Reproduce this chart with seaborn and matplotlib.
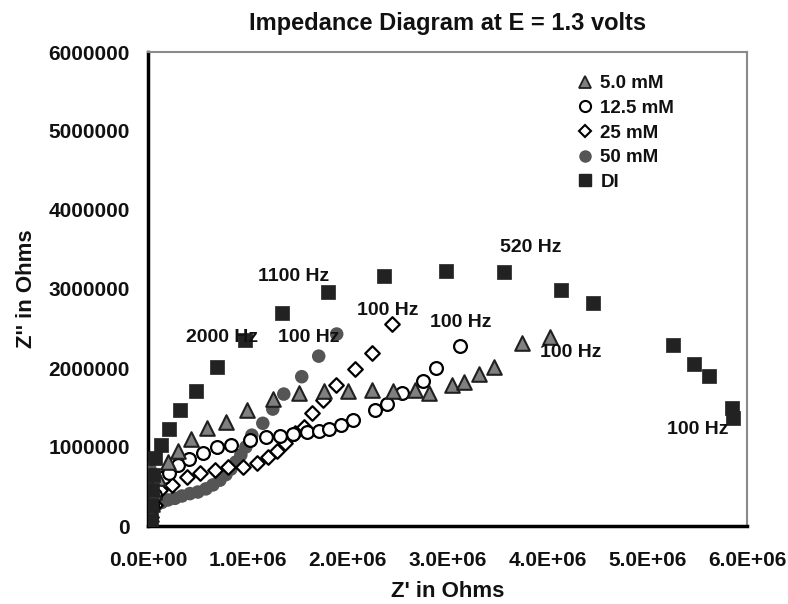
import matplotlib
matplotlib.use("Agg")
import matplotlib.pyplot as plt
import matplotlib.ticker as mticker
from matplotlib.lines import Line2D
import seaborn as sns
import numpy as np

# ---------------- data (Z' , Z'' in Ohms) ----------------
di_x = [0.03e6, 0.03e6, 0.04e6, 0.05e6, 0.07e6, 0.13e6, 0.21e6, 0.32e6, 0.48e6, 0.69e6,
        0.97e6, 1.34e6, 1.80e6, 2.36e6, 2.98e6, 3.57e6, 4.14e6, 4.46e6, 5.26e6, 5.47e6,
        5.62e6, 5.85e6, 5.86e6]
di_y = [0.076e6, 0.266e6, 0.456e6, 0.646e6, 0.861e6, 1.025e6, 1.228e6, 1.468e6, 1.709e6, 2.013e6,
        2.354e6, 2.696e6, 2.962e6, 3.165e6, 3.228e6, 3.215e6, 2.987e6, 2.823e6, 2.291e6, 2.051e6,
        1.899e6, 1.494e6, 1.367e6]

mm5_x = [0.03e6, 0.04e6, 0.06e6, 0.10e6, 0.20e6, 0.30e6, 0.43e6, 0.59e6, 0.78e6, 0.99e6,
         1.25e6, 1.51e6, 1.76e6, 2.00e6, 2.24e6, 2.45e6, 2.67e6, 2.81e6, 3.05e6, 3.17e6,
         3.32e6, 3.47e6, 3.75e6, 4.03e6]
mm5_y = [0.15e6, 0.28e6, 0.43e6, 0.61e6, 0.81e6, 0.95e6, 1.10e6, 1.24e6, 1.32e6, 1.47e6,
         1.61e6, 1.68e6, 1.71e6, 1.71e6, 1.72e6, 1.71e6, 1.72e6, 1.68e6, 1.78e6, 1.82e6,
         1.92e6, 2.01e6, 2.32e6, 2.39e6]

mm12_x = [0.02e6, 0.04e6, 0.07e6, 0.16e6, 0.21e6, 0.30e6, 0.41e6, 0.55e6, 0.69e6, 0.83e6,
          1.02e6, 1.18e6, 1.32e6, 1.45e6, 1.59e6, 1.71e6, 1.81e6, 1.93e6, 2.05e6, 2.27e6,
          2.39e6, 2.54e6, 2.75e6, 2.88e6, 3.13e6]
mm12_y = [0.14e6, 0.27e6, 0.39e6, 0.62e6, 0.67e6, 0.77e6, 0.85e6, 0.92e6, 1.00e6, 1.03e6,
          1.09e6, 1.13e6, 1.14e6, 1.16e6, 1.19e6, 1.20e6, 1.23e6, 1.28e6, 1.34e6, 1.47e6,
          1.54e6, 1.68e6, 1.84e6, 2.00e6, 2.28e6]

mm25_x = [0.03e6, 0.07e6, 0.12e6, 0.24e6, 0.39e6, 0.52e6, 0.67e6, 0.80e6, 0.95e6, 1.09e6,
          1.20e6, 1.29e6, 1.37e6, 1.47e6, 1.56e6, 1.64e6, 1.75e6, 1.88e6, 2.07e6, 2.24e6,
          2.44e6]
mm25_y = [0.12e6, 0.27e6, 0.46e6, 0.52e6, 0.62e6, 0.67e6, 0.71e6, 0.75e6, 0.75e6, 0.80e6,
          0.87e6, 0.95e6, 1.05e6, 1.18e6, 1.25e6, 1.43e6, 1.59e6, 1.78e6, 1.99e6, 2.19e6,
          2.56e6]

mm50_x = [0.00e6, 0.005e6, 0.01e6, 0.01e6, 0.015e6, 0.02e6, 0.02e6, 0.03e6, 0.05e6, 0.09e6,
          0.14e6, 0.20e6, 0.27e6, 0.34e6, 0.42e6, 0.50e6, 0.58e6, 0.65e6, 0.72e6, 0.78e6,
          0.83e6, 0.88e6, 0.93e6, 0.98e6, 1.04e6, 1.15e6, 1.25e6, 1.36e6, 1.54e6, 1.71e6,
          1.89e6]
mm50_y = [0.02e6, 0.10e6, 0.20e6, 0.32e6, 0.45e6, 0.58e6, 0.72e6, 0.16e6, 0.22e6, 0.27e6,
          0.30e6, 0.33e6, 0.35e6, 0.38e6, 0.41e6, 0.43e6, 0.47e6, 0.52e6, 0.58e6, 0.65e6,
          0.72e6, 0.81e6, 0.90e6, 1.00e6, 1.15e6, 1.30e6, 1.48e6, 1.67e6, 1.89e6, 2.15e6,
          2.43e6]

series_labels = ["5.0 mM", "12.5 mM", "25 mM", "50 mM", "DI"]

freq_labels = ["2000 Hz", "1100 Hz", "100 Hz", "100 Hz", "100 Hz", "520 Hz", "100 Hz", "100 Hz"]
freq_x = [0.74e6, 1.46e6, 1.61e6, 2.40e6, 3.13e6, 3.83e6, 4.23e6, 5.51e6]
freq_y = [2.38e6, 3.16e6, 2.38e6, 2.73e6, 2.57e6, 3.53e6, 2.20e6, 1.22e6]

x_ticks = [0, 1e6, 2e6, 3e6, 4e6, 5e6, 6e6]
y_ticks = [0, 1e6, 2e6, 3e6, 4e6, 5e6, 6e6]

# ---------------- style ----------------
sns.set_style("white")
plt.rcParams['font.family'] = ['Liberation Sans', 'DejaVu Sans']
plt.rcParams['font.weight'] = 'bold'
plt.rcParams['text.color'] = '#111111'
plt.rcParams['axes.labelcolor'] = '#111111'
plt.rcParams['xtick.color'] = '#111111'
plt.rcParams['ytick.color'] = '#111111'

fig = plt.figure(figsize=(7.88, 6.04), dpi=100)
ax = fig.add_axes([148/788, 1 - 526/604, (747-148)/788, (526-52)/604])

sns.scatterplot(x=mm50_x, y=mm50_y, ax=ax, marker='o', s=95, color='#555555',
                edgecolor='none', linewidth=0, zorder=3)
sns.scatterplot(x=mm25_x, y=mm25_y, ax=ax, marker='D', s=55, color='white',
                edgecolor='black', linewidth=1.6, zorder=4)
sns.scatterplot(x=mm12_x, y=mm12_y, ax=ax, marker='o', s=85, color='white',
                edgecolor='black', linewidth=1.6, zorder=4)
sns.scatterplot(x=mm5_x, y=mm5_y, ax=ax, marker='^', s=110, color='#808080',
                edgecolor='#202020', linewidth=1.5, zorder=5)
sns.scatterplot(x=di_x, y=di_y, ax=ax, marker='s', s=110, color='#222222',
                edgecolor='#222222', linewidth=0.5, zorder=6)

for lab, fx, fy in zip(freq_labels, freq_x, freq_y):
    ax.text(fx, fy, lab, ha='center', va='center', fontsize=14, fontweight='bold',
            color='#111111', zorder=7)

ax.set_xlim(0, 6e6)
ax.set_ylim(0, 6e6)
ax.set_xticks(x_ticks)
ax.set_yticks(y_ticks)
ax.xaxis.set_minor_locator(mticker.MultipleLocator(0.2e6))
ax.yaxis.set_minor_locator(mticker.MultipleLocator(0.2e6))
ax.xaxis.set_major_formatter(mticker.FuncFormatter(lambda v, p: "%.1E" % v))
ax.yaxis.set_major_formatter(mticker.FuncFormatter(lambda v, p: "%d" % int(round(v))))

ax.tick_params(axis='both', which='major', direction='inout', length=10, width=2.2,
               labelsize=15, color='black', labelcolor='#111111', pad=8)
ax.tick_params(axis='both', which='minor', direction='in', length=5, width=1.8, color='black')
ax.tick_params(axis='x', which='major', pad=13)
for lab in ax.get_xticklabels() + ax.get_yticklabels():
    lab.set_fontweight('bold')

for side in ['left', 'bottom']:
    ax.spines[side].set_color('black')
    ax.spines[side].set_linewidth(2.5)
for side in ['top', 'right']:
    ax.spines[side].set_color('#8a8a8a')
    ax.spines[side].set_linewidth(1.5)

ax.set_xlabel("Z' in Ohms", fontsize=16, fontweight='bold', labelpad=8)
ax.set_ylabel("Z'' in Ohms", fontsize=16, fontweight='bold', labelpad=8)
ax.set_title("Impedance Diagram at E = 1.3 volts", fontsize=17, fontweight='bold', pad=16,
             color='#111111')

handles = [
    Line2D([], [], linestyle='none', marker='^', markersize=8, markerfacecolor='#808080',
           markeredgecolor='#202020', markeredgewidth=1.3),
    Line2D([], [], linestyle='none', marker='o', markersize=8, markerfacecolor='white',
           markeredgecolor='black', markeredgewidth=1.5),
    Line2D([], [], linestyle='none', marker='D', markersize=6.5, markerfacecolor='white',
           markeredgecolor='black', markeredgewidth=1.5),
    Line2D([], [], linestyle='none', marker='o', markersize=9, markerfacecolor='#555555',
           markeredgecolor='none'),
    Line2D([], [], linestyle='none', marker='s', markersize=9, markerfacecolor='#222222',
           markeredgecolor='#222222'),
]
leg = ax.legend(handles, series_labels, loc='upper left', bbox_to_anchor=(0.705, 0.967),
                frameon=False, fontsize=13.5, handlelength=0.8, handletextpad=0.4,
                labelspacing=0.4, borderaxespad=0)
for t in leg.get_texts():
    t.set_fontweight('bold')
    t.set_color('#111111')

fig.savefig("out.png", dpi=100)
